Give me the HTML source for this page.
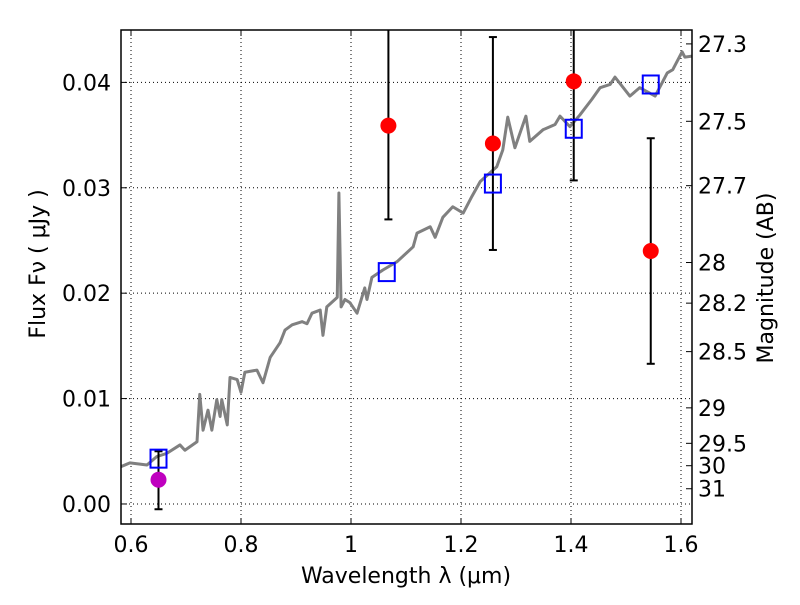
<!DOCTYPE html>
<html><head><meta charset="utf-8"><style>
html,body{margin:0;padding:0;background:#fff;}
svg text{font-family:"DejaVu Sans","Liberation Sans",sans-serif;font-size:22px;fill:#000;}
</style></head><body>
<svg id="chart" width="800" height="600" xmlns="http://www.w3.org/2000/svg">
<g id="grid"></g>
<g id="spec"></g>
<g id="marks"></g>
<g id="axes"></g>
</svg>
<script>
const specWl=[0.580,0.598,0.629,0.647,0.665,0.689,0.698,0.720,0.725,0.731,0.740,0.747,0.756,0.762,0.765,0.775,0.780,0.793,0.800,0.807,0.829,0.840,0.853,0.871,0.880,0.893,0.911,0.920,0.929,0.944,0.949,0.956,0.975,0.978,0.982,0.989,0.998,1.011,1.025,1.029,1.038,1.058,1.084,1.113,1.120,1.144,1.153,1.167,1.185,1.204,1.220,1.235,1.265,1.276,1.285,1.298,1.318,1.325,1.349,1.371,1.380,1.398,1.416,1.438,1.453,1.471,1.480,1.507,1.525,1.553,1.575,1.585,1.602,1.607,1.622];
const specFlux=[0.0035,0.0039,0.0037,0.0045,0.0048,0.0056,0.0051,0.0059,0.0104,0.0070,0.0089,0.0070,0.0099,0.0083,0.0099,0.0075,0.0120,0.0118,0.0106,0.0125,0.0127,0.0115,0.0139,0.0153,0.0165,0.0170,0.0173,0.0171,0.0181,0.0184,0.0160,0.0187,0.0196,0.0295,0.0187,0.0194,0.0191,0.0181,0.0205,0.0194,0.0215,0.0222,0.0230,0.0244,0.0257,0.0263,0.0253,0.0272,0.0282,0.0276,0.0292,0.0306,0.0320,0.0336,0.0367,0.0338,0.0368,0.0344,0.0355,0.0360,0.0368,0.0358,0.0369,0.0384,0.0395,0.0398,0.0405,0.0387,0.0395,0.0387,0.0409,0.0412,0.0429,0.0424,0.0425];
const sqWl=[0.65,1.065,1.258,1.405,1.545];
const sqFlux=[0.0043,0.0220,0.0304,0.0356,0.0398];
const obsWl=[1.068,1.258,1.405,1.545];
const obsFlux=[0.0359,0.0342,0.0401,0.0240];
const obsLo=[0.0270,0.0241,0.0307,0.0133];
const obsHi=[0.0480,0.0443,0.0480,0.0347];
const hstWl=[0.65];
const hstFlux=[0.0023];
const hstLo=[-0.0005];
const hstHi=[0.0050];
const xTicks=[0.6,0.8,1.0,1.2,1.4,1.6];
const xTickLabels=["0.6","0.8","1","1.2","1.4","1.6"];
const yTicks=[0,0.01,0.02,0.03,0.04];
const yTickLabels=["0.00","0.01","0.02","0.03","0.04"];
const magTicks=[27.3,27.5,27.7,28,28.2,28.5,29,29.5,30,31];
const magLabels=["27.3","27.5","27.7","28","28.2","28.5","29","29.5","30","31"];

const L=121,R=692,T=30,B=524;
const xmin=0.5818,xmax=1.62,ymin=-0.0019,ymax=0.04497;
const X=v=>L+(v-xmin)/(xmax-xmin)*(R-L);
const Y=v=>B-(v-ymin)/(ymax-ymin)*(B-T);
const NS="http://www.w3.org/2000/svg";
function mk(tag,attrs,parent){const e=document.createElementNS(NS,tag);for(const k in attrs)e.setAttribute(k,attrs[k]);parent.appendChild(e);return e;}
const grid=document.getElementById('grid'),spec=document.getElementById('spec'),marks=document.getElementById('marks'),axes=document.getElementById('axes');

xTicks.forEach((t,i)=>{
  const g=mk('line',{x1:X(t),x2:X(t),y1:T,y2:B,stroke:'#000','stroke-width':1,'stroke-dasharray':'1,3'},grid);
  
  
  const a=mk('line',{x1:X(t),x2:X(t),y1:B,y2:B-6,stroke:'#000'},axes);
  
  
  const b=mk('line',{x1:X(t),x2:X(t),y1:T,y2:T+6,stroke:'#000'},axes);
  
  
  const tx=mk('text',{x:X(t),y:B+28,'text-anchor':'middle'},axes);tx.textContent=xTickLabels[i];
  
  
});
yTicks.forEach((t,i)=>{
  const g=mk('line',{x1:L,x2:R,y1:Y(t),y2:Y(t),stroke:'#000','stroke-width':1,'stroke-dasharray':'1,3'},grid);
  
  
  const a=mk('line',{x1:L,x2:L+6,y1:Y(t),y2:Y(t),stroke:'#000'},axes);
  
  
  const tx=mk('text',{x:L-10,y:Y(t)+8,'text-anchor':'end'},axes);tx.textContent=yTickLabels[i];
  
  
});
magTicks.forEach((m,i)=>{
  const f=Math.pow(10,(23.9-m)/2.5);
  const a=mk('line',{x1:R,x2:R-6,y1:Y(f),y2:Y(f),stroke:'#000'},axes);
  
  
  const tx=mk('text',{x:R+6,y:Y(f)+8,'text-anchor':'start'},axes);tx.textContent=magLabels[i];
  
  
});

const cp=mk('clipPath',{id:'cp'},document.getElementById('chart'));mk('rect',{x:L,y:T,width:R-L,height:B-T},cp);
const pl=mk('polyline',{points:specWl.map((w,i)=>X(w)+','+Y(specFlux[i])).join(' '),fill:'none',stroke:'#808080','stroke-width':3,'stroke-linejoin':'round','clip-path':'url(#cp)'},spec);



function errbar(w,lo,hi,name){
  const y1=Math.max(Y(hi),T),y2=Y(lo);
  const l=mk('line',{x1:X(w),x2:X(w),y1:y1,y2:y2,stroke:'#000','stroke-width':2},marks);
  
  
  if(Y(hi)>=T) mk('line',{x1:X(w)-4,x2:X(w)+4,y1:Y(hi),y2:Y(hi),stroke:'#000','stroke-width':2},marks);
  mk('line',{x1:X(w)-4,x2:X(w)+4,y1:y2,y2:y2,stroke:'#000','stroke-width':2},marks);
}
obsWl.forEach((w,i)=>errbar(w,obsLo[i],obsHi[i],'obs-errorbar'));
hstWl.forEach((w,i)=>errbar(w,hstLo[i],hstHi[i],'hst-errorbar'));
sqWl.forEach((w,i)=>{
  const r=mk('rect',{x:X(w)-8,y:Y(sqFlux[i])-9,width:16,height:18,fill:'none',stroke:'#0000ff','stroke-width':2},marks);
  
  
});
obsWl.forEach((w,i)=>{
  const c=mk('circle',{cx:X(w),cy:Y(obsFlux[i]),r:8,fill:'#ff0000'},marks);
  
  
});
hstWl.forEach((w,i)=>{
  const c=mk('circle',{cx:X(w),cy:Y(hstFlux[i]),r:8,fill:'#bf00bf'},marks);
  
  
});

const fr=mk('rect',{x:L,y:T,width:R-L,height:B-T,fill:'none',stroke:'#000','stroke-width':1.5},axes);


const xl=mk('text',{x:406,y:583,'text-anchor':'middle','xml:space':'preserve'},axes);xl.textContent='Wavelength  λ (μm)';


const yl=mk('text',{x:45,y:264,'text-anchor':'middle',transform:'rotate(-90 45 264)'},axes);yl.textContent='Flux  Fν  (  μJy )';


const rl=mk('text',{x:773,y:278,'text-anchor':'middle',transform:'rotate(-90 773 278)'},axes);rl.textContent='Magnitude (AB)';


</script>
</body></html>
